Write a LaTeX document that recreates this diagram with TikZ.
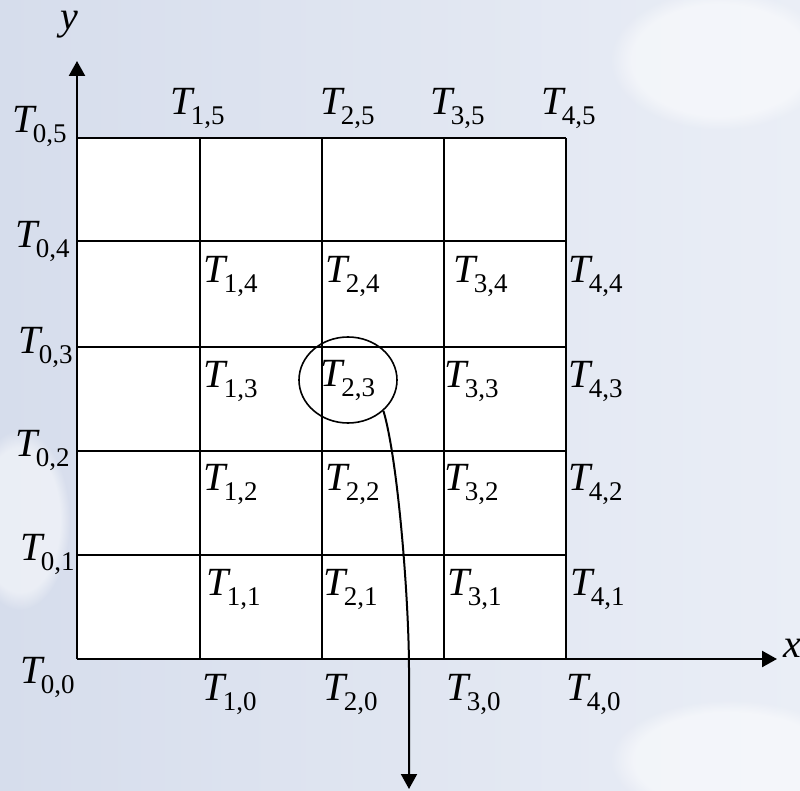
\documentclass[tikz,border=0pt]{standalone}
\usepackage{fontspec}
\setmainfont{Liberation Serif}
\usetikzlibrary{arrows.meta,shapes.geometric,fadings}
\definecolor{bgA}{RGB}{214,221,236}
\definecolor{bgB}{RGB}{234,238,246}
\newcommand\Tsub[1]{\fontsize{40}{40}\selectfont\textit{T}\kern-4pt\raisebox{-10pt}{\fontsize{27}{27}\selectfont #1}}
\tikzset{
  lab/.style={anchor=base west,inner sep=0pt},
  gridline/.style={line width=2pt},
  axis/.style={line width=2.4pt,-{Triangle[width=16pt,length=15pt]}},
  axlab/.style={inner sep=0pt,font=\fontsize{40}{40}\selectfont\itshape},
  cloud/.style={white,opacity=0.5,path fading=circle with fuzzy edge 20 percent},
}
\begin{document}
\begin{tikzpicture}[x=1pt,y=-1pt]
\useasboundingbox (0,0) rectangle (800,791);
\shade[left color=bgA,right color=bgB] (0,0) rectangle (800,791);
\fill[cloud] (720,60) ellipse (110 and 70);
\fill[cloud] (730,760) ellipse (120 and 60);
\fill[cloud] (20,520) ellipse (50 and 90);
% grid
\fill[white] (77,138) rectangle (566,659);
\coordinate (o) at (77,659);
\coordinate (xt) at (777,659);
\coordinate (yt) at (77,61);
\foreach \x in {200,322,444,566} \draw[gridline] (\x,138) -- (\x,659);
\foreach \y in {138,241,347,451,555} \draw[gridline] (77,\y) -- (566,\y);
\draw[axis] (o) -- (xt);
\draw[axis] (o) -- (yt);
\node[axlab,anchor=base west] (xl) at (783,657) {x};
\node[axlab,anchor=base west] (yl) at (60,30) {y};
% left column
\node[lab] (t05) at (12,133) {\Tsub{0,5}};
\node[lab] (t04) at (15,248) {\Tsub{0,4}};
\node[lab] (t03) at (18,353) {\Tsub{0,3}};
\node[lab] (t02) at (15,456) {\Tsub{0,2}};
\node[lab] (t01) at (20,560) {\Tsub{0,1}};
\node[lab] (t00) at (20,683) {\Tsub{0,0}};
% top row
\node[lab] (t15) at (170,115) {\Tsub{1,5}};
\node[lab] (t25) at (320,115) {\Tsub{2,5}};
\node[lab] (t35) at (430,115) {\Tsub{3,5}};
\node[lab] (t45) at (541,115) {\Tsub{4,5}};
% row 4
\node[lab] (t14) at (203,283) {\Tsub{1,4}};
\node[lab] (t24) at (325,283) {\Tsub{2,4}};
\node[lab] (t34) at (453,283) {\Tsub{3,4}};
\node[lab] (t44) at (568,283) {\Tsub{4,4}};
% row 3
\node[lab] (t13) at (203,387) {\Tsub{1,3}};
\node[draw,line width=1.6pt,ellipse,minimum width=98pt,minimum height=86pt,inner sep=0pt] (e23) at (348,380) {\Tsub{2,3}};
\node[lab] (t33) at (444,387) {\Tsub{3,3}};
\node[lab] (t43) at (568,387) {\Tsub{4,3}};
% row 2
\node[lab] (t12) at (203,490) {\Tsub{1,2}};
\node[lab] (t22) at (325,490) {\Tsub{2,2}};
\node[lab] (t32) at (444,490) {\Tsub{3,2}};
\node[lab] (t42) at (568,490) {\Tsub{4,2}};
% row 1
\node[lab] (t11) at (206,595) {\Tsub{1,1}};
\node[lab] (t21) at (323,595) {\Tsub{2,1}};
\node[lab] (t31) at (447,595) {\Tsub{3,1}};
\node[lab] (t41) at (570,595) {\Tsub{4,1}};
% row 0
\node[lab] (t10) at (202,700) {\Tsub{1,0}};
\node[lab] (t20) at (323,700) {\Tsub{2,0}};
\node[lab] (t30) at (446,700) {\Tsub{3,0}};
\node[lab] (t40) at (566,700) {\Tsub{4,0}};
% connector
\coordinate (cend) at (409,789);
\draw[line width=2pt,-{Triangle[width=16pt,length=15pt]}] (e23.-41) .. controls (398,460) and (409,600) .. (409,670) -- (cend);
\end{tikzpicture}
\end{document}
